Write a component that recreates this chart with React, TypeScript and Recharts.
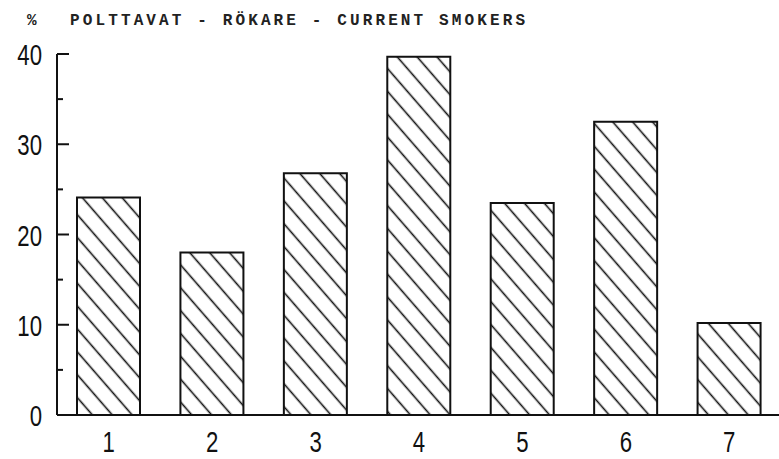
import { BarChart, Bar, XAxis, YAxis } from 'recharts';

// kategoriat ja arvot (%), luettu kuvasta
const groups = ['1', '2', '3', '4', '5', '6', '7'];
const smokers = [24.1, 18.0, 26.8, 39.7, 23.5, 32.5, 10.2];
const yTicks = [0, 5, 10, 15, 20, 25, 30, 35, 40];
const titleText = 'POLTTAVAT - RÖKARE - CURRENT SMOKERS';

const data = groups.map((g, i) => ({ group: g, value: smokers[i] }));

const digitFont = "'Liberation Sans', Arimo, sans-serif";

const YTick = (props: any) => {
  const { x, y, payload } = props;
  const major = payload.value % 10 === 0;
  return (
    <g>
      <line x1={x} y1={y} x2={x + (major ? 12 : 6)} y2={y} stroke="#111" strokeWidth={2} />
      {major && (
        <text
          transform={`translate(${x - 15} ${y + 11}) scale(0.74 1)`}
          textAnchor="end"
          fontSize={30}
          fontFamily={digitFont}
          fill="#111"
        >
          {payload.value}
        </text>
      )}
    </g>
  );
};

const XTick = (props: any) => {
  const { x, y, payload } = props;
  return (
    <text
      transform={`translate(${x} ${y + 37}) scale(0.74 1)`}
      textAnchor="middle"
      fontSize={30}
      fontFamily={digitFont}
      fill="#111"
    >
      {payload.value}
    </text>
  );
};

export default function App() {
  return (
    <div style={{ position: 'fixed', left: 0, top: 0, width: 779, height: 459, overflow: 'hidden', background: '#fff' }}>
      <svg width={779} height={40} style={{ position: 'absolute', left: 0, top: 0 }}>
        <text x={27} y={25} fontSize={16} fontWeight="bold" fontFamily="'Liberation Mono', 'DejaVu Sans Mono', monospace" fill="#222">
          %
        </text>
        <text
          x={70}
          y={25}
          fontSize={16}
          fontWeight="bold"
          fontFamily="'Liberation Mono', 'DejaVu Sans Mono', monospace"
          fill="#222"
          textLength={455}
          lengthAdjust="spacing"
        >
          {titleText}
        </text>
      </svg>
      <div style={{ position: 'absolute', left: 0, top: 0 }}>
        <BarChart width={784} height={459} data={data} margin={{ top: 54, right: 3, left: 0, bottom: 4 }} barCategoryGap={20}>
          <defs>
            <pattern id="hatch" patternUnits="userSpaceOnUse" width={15} height={15} patternTransform="rotate(49)">
              <rect width={15} height={15} fill="#fff" />
              <line x1={0} y1={7.5} x2={15} y2={7.5} stroke="#111" strokeWidth={1.6} />
            </pattern>
          </defs>
          <XAxis
            dataKey="group"
            height={40}
            tickSize={0}
            tickMargin={0}
            tickLine={false}
            axisLine={{ stroke: '#111', strokeWidth: 2 }}
            tick={<XTick />}
            interval={0}
          />
          <YAxis
            width={57}
            domain={[0, 40]}
            ticks={yTicks}
            interval={0}
            tickSize={0}
            tickMargin={0}
            tickLine={false}
            axisLine={{ stroke: '#111', strokeWidth: 2 }}
            tick={<YTick />}
          />
          <Bar dataKey="value" fill="url(#hatch)" stroke="#111" strokeWidth={2} isAnimationActive={false} />
        </BarChart>
      </div>
    </div>
  );
}
